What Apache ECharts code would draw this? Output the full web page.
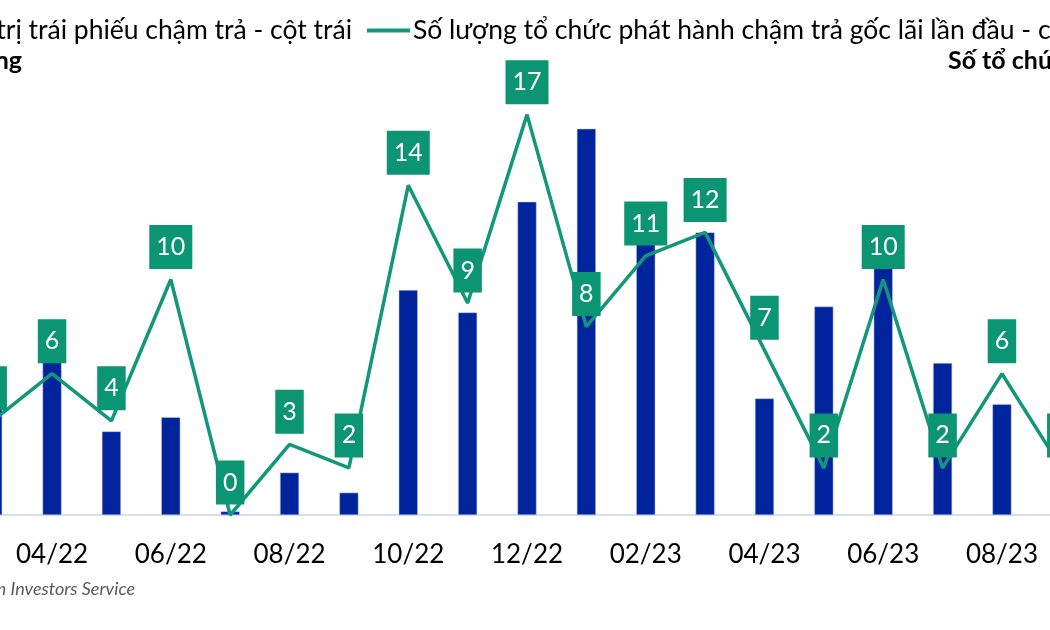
<!DOCTYPE html>
<html>
<head>
<meta charset="utf-8">
<script src="https://cdn.jsdelivr.net/npm/echarts@6/dist/echarts.min.js"></script>
<style>
  html, body { margin: 0; padding: 0; background: #fff; overflow: hidden; }
  #wrap { width: 1050px; height: 630px; overflow: hidden; position: relative; }
  /* bieu do goc bi cat hai ben nen khung rong hon cua so */
  #main { position: absolute; left: -37px; top: 0; width: 1128px; height: 630px; }
</style>
</head>
<body>
<div id="wrap"><div id="main"></div></div>
<script>
// thang, phan bi cat o hai mep
var months = ['03/22', '04/22', '05/22', '06/22', '07/22', '08/22', '09/22', '10/22', '11/22', '12/22',
    '01/23', '02/23', '03/23', '04/23', '05/23', '06/23', '07/23', '08/23', '09/23'];
// gia tri trai phieu cham tra (cot trai), uoc luong tu chieu cao cot
var bondValue = [12.5, 13.0, 7.1, 8.3, 0.3, 3.6, 1.9, 19.1, 17.2, 26.6,
    32.8, 23.4, 24.0, 9.9, 17.7, 21.5, 12.9, 9.4, 6.0];
// so to chuc cham tra lan dau (cot phai)
var issuerCount = [4, 6, 4, 10, 0, 3, 2, 14, 9, 17,
    8, 11, 12, 7, 2, 10, 2, 6, 2];

var barName = 'Giá trị trái phiếu chậm trả - cột trái';
var lineName = 'Số lượng tổ chức phát hành chậm trả gốc lãi lần đầu - cột phải';

var FONT = 'Lato, "Open Sans", sans-serif';
var BLUE = '#00249C';
var GREEN = '#12977A';

var chart = echarts.init(document.getElementById('main'));
chart.setOption({
    animation: false,
    textStyle: { fontFamily: FONT },
    legend: [
        {
            data: [barName],
            right: 734,
            top: 12,
            icon: 'rect',
            itemWidth: 14,
            itemHeight: 14,
            textStyle: { fontSize: 26.5, color: '#000', fontFamily: FONT }
        },
        {
            data: [lineName],
            left: 399,
            top: 12,
            icon: 'rect',
            itemWidth: 43,
            itemHeight: 4,
            textStyle: { fontSize: 26.5, color: '#000', fontFamily: FONT, padding: [0, 0, 0, -2] }
        }
    ],
    graphic: [
        {
            type: 'text', right: 1069, top: 48,
            style: { text: 'Nghìn tỷ đồng', font: 'bold 25px ' + FONT, fill: '#000' }
        },
        {
            type: 'text', left: 985, top: 48,
            style: { text: 'Số tổ chức', font: 'bold 25px ' + FONT, fill: '#000' }
        },
        {
            type: 'text', right: 956, top: 580,
            style: { text: 'Nguồn: Vietnam Investors Service', font: 'italic 18px ' + FONT, fill: '#595959' }
        }
    ],
    grid: { left: 0, right: 0, top: 44, bottom: 115, containLabel: false },
    xAxis: {
        type: 'category',
        data: months,
        axisLine: { lineStyle: { color: '#C9D5F2', width: 1.5 } },
        axisTick: {
            interval: function (i) { return i % 2 === 1; },
            length: 9,
            lineStyle: { color: '#C9D5F2', width: 1.5 }
        },
        axisLabel: {
            interval: function (i) { return i % 2 === 1; },
            fontSize: 26,
            color: '#000',
            margin: 27
        }
    },
    yAxis: [
        { type: 'value', min: 0, max: 40, show: false },
        { type: 'value', min: 0, max: 20, show: false }
    ],
    series: [
        {
            name: barName,
            type: 'bar',
            data: bondValue,
            barWidth: 19,
            itemStyle: { color: BLUE, borderColor: '#B8C3EC', borderWidth: 0.5 }
        },
        {
            name: lineName,
            type: 'line',
            yAxisIndex: 1,
            data: issuerCount,
            symbol: 'circle',
            symbolSize: 1,
            itemStyle: { color: GREEN },
            lineStyle: { color: GREEN, width: 3.5 },
            label: {
                show: true,
                position: 'top',
                distance: 10,
                backgroundColor: '#0B9572',
                color: '#fff',
                fontSize: 25,
                lineHeight: 26,
                padding: [9, 7, 9, 7]
            }
        }
    ]
});
</script>
</body>
</html>
